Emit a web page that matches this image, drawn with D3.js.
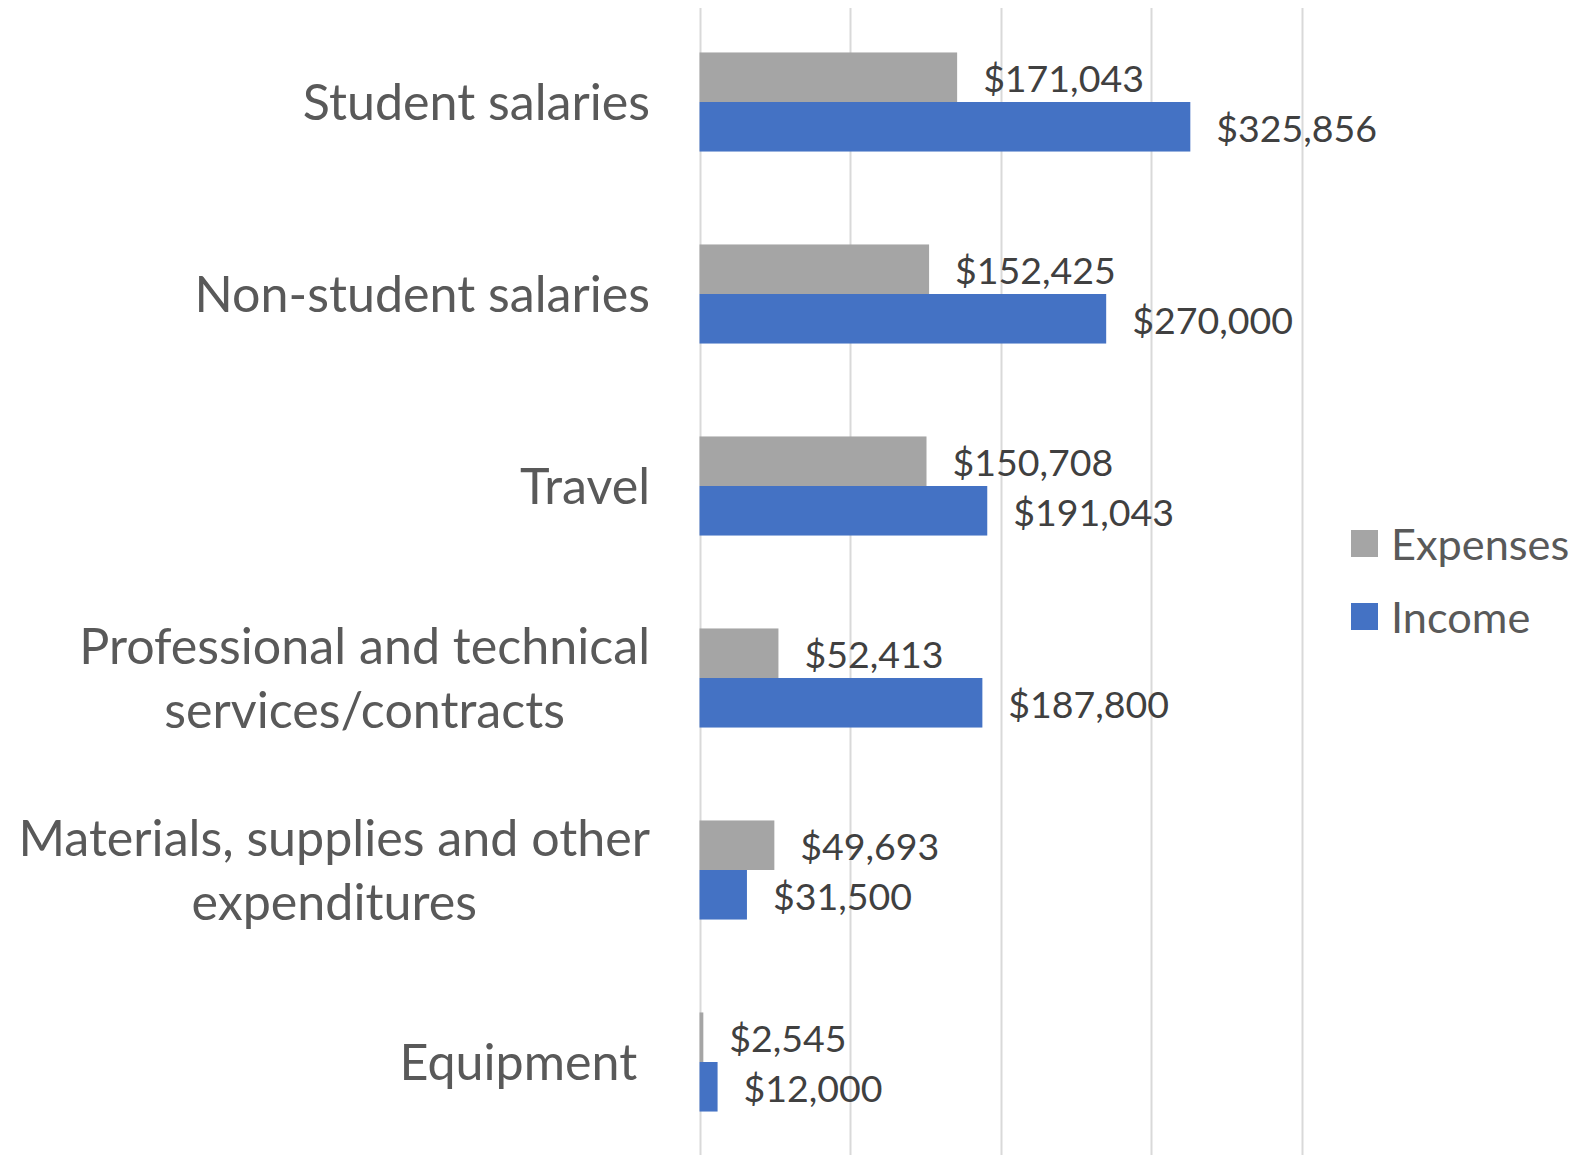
<!DOCTYPE html>
<html>
<head>
<meta charset="utf-8">
<script src="https://cdn.jsdelivr.net/npm/d3@7/dist/d3.min.js"></script>
<style>
  body { margin: 0; background: #fff; }
  svg { display: block; font-family: Lato, "Open Sans", sans-serif; }
</style>
</head>
<body>
<div class="graphic"></div>
<script>
// data
var categories = [
  ["Student salaries"],
  ["Non-student salaries"],
  ["Travel"],
  ["Professional and technical", "services/contracts"],
  ["Materials, supplies and other", "expenditures"],
  ["Equipment "]
];
var seriesNames = ["Expenses", "Income"];
var expenses = [171043, 152425, 150708, 52413, 49693, 2545];
var income = [325856, 270000, 191043, 187800, 31500, 12000];
var xTicks = [0, 100000, 200000, 300000, 400000];

var colorRange = ["#a5a5a5", "#4472c4"];

var width = 1596, height = 1155;
var svg = d3.select(".graphic").append("svg")
  .attr("width", width).attr("height", height);

var x = d3.scaleLinear().domain([0, 400000]).range([699.5, 1302]);
var y = d3.scaleBand()
  .domain(d3.range(categories.length))
  .range([6, 1158])
  .paddingInner(0.484)
  .paddingOuter(0.242);
var ySub = d3.scaleBand().domain(seriesNames).range([0, y.bandwidth()]);

// gridlines
svg.append("g").selectAll("line")
  .data(xTicks)
  .enter()
  .append("line")
  .attr("x1", function(d) { return Math.round(x(d)) + 0.5 })
  .attr("x2", function(d) { return Math.round(x(d)) + 0.5 })
  .attr("y1", 8).attr("y2", height)
  .attr("stroke", "#d9d9d9").attr("stroke-width", 2);

var fmt = d3.format("$,");

var rows = categories.map(function(c, i) {
  return { i: i, values: [expenses[i], income[i]] };
});

var groups = svg.append("g").selectAll("g")
  .data(rows)
  .enter()
  .append("g")
  .attr("transform", function(d) { return "translate(0," + y(d.i) + ")" });

groups.selectAll("rect")
  .data(function(d) { return d.values })
  .enter()
  .append("rect")
  .attr("x", x(0))
  .attr("y", function(d, j) { return ySub(seriesNames[j]) })
  .attr("width", function(d) { return x(d) - x(0) })
  .attr("height", ySub.bandwidth())
  .attr("fill", function(d, j) { return colorRange[j] });

groups.selectAll("text.val")
  .data(function(d) { return d.values })
  .enter()
  .append("text")
  .attr("class", "val")
  .attr("x", function(d) { return x(d) + 26 })
  .attr("y", function(d, j) { return ySub(seriesNames[j]) + ySub.bandwidth() / 2 })
  .attr("dy", "0.4em")
  .attr("fill", "#404040")
  .attr("font-size", 37.5)
  .text(function(d) { return fmt(d) });

// category labels: lines centred on each other, block right-aligned
var labelRight = 650, lineH = 64.6;
categories.forEach(function(lines, i) {
  var g = svg.append("g");
  var cy = y(i) + y.bandwidth() / 2;
  var texts = lines.map(function(t, k) {
    return g.append("text")
      .attr("xml:space", "preserve")
      .attr("y", cy + (k - (lines.length - 1) / 2) * lineH)
      .attr("dy", "0.36em")
      .attr("fill", "#595959")
      .attr("font-size", 50.2)
      .attr("text-anchor", "middle")
      .text(t);
  });
  var maxW = d3.max(texts, function(t) { return t.node().getComputedTextLength() });
  texts.forEach(function(t) { t.attr("x", labelRight - maxW / 2) });
});

// legend
var legend = svg.append("g").selectAll("g")
  .data(seriesNames)
  .enter()
  .append("g")
  .attr("transform", function(d, i) { return "translate(1351," + (544 + i * 73) + ")" });

legend.append("rect")
  .attr("x", 0).attr("y", -14)
  .attr("width", 27).attr("height", 27)
  .attr("fill", function(d, i) { return colorRange[i] });

legend.append("text")
  .attr("x", 40).attr("y", 0)
  .attr("dy", "0.37em")
  .attr("fill", "#595959")
  .attr("font-size", 43.3)
  .text(function(d) { return d });
</script>
</body>
</html>
